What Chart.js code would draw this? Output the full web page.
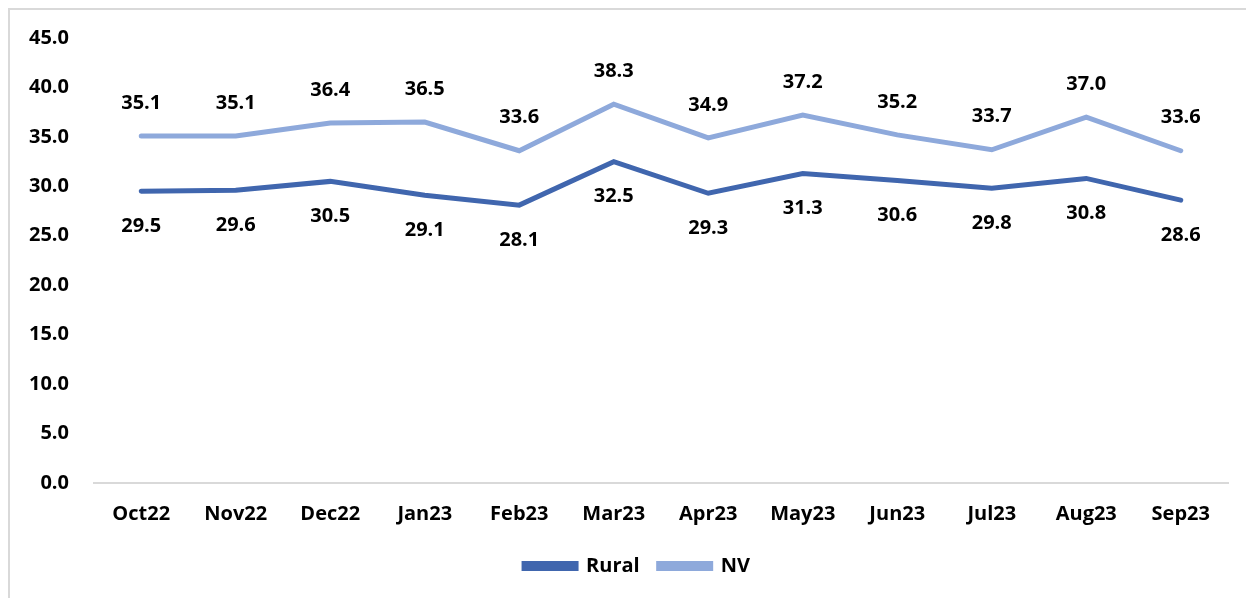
<!DOCTYPE html>
<html>
<head>
<meta charset="utf-8">
<script src="https://cdn.jsdelivr.net/npm/chart.js@4.4.1/dist/chart.umd.min.js"></script>
<style>
    body { margin: 0; background: #fff; }
    #wrap { position: relative; width: 1246px; height: 598px; }
    #frame {
        position: absolute; left: 8px; top: 8px; width: 1260px; height: 620px;
        border-left: 2px solid #d9d9d9; border-top: 2px solid #d9d9d9;
    }
    canvas { position: absolute; left: 0; top: 0; }
</style>
</head>
<body>
<div id="wrap">
    <div id="frame"></div>
    <canvas id="chart" width="1246" height="598"></canvas>
</div>
<script>
// Data
let months = ["Oct22", "Nov22", "Dec22", "Jan23", "Feb23", "Mar23", "Apr23", "May23", "Jun23", "Jul23", "Aug23", "Sep23"];
let rural = [29.5, 29.6, 30.5, 29.1, 28.1, 32.5, 29.3, 31.3, 30.6, 29.8, 30.8, 28.6];
let nv = [35.1, 35.1, 36.4, 36.5, 33.6, 38.3, 34.9, 37.2, 35.2, 33.7, 37.0, 33.6];

let font = "'Open Sans', 'Noto Sans', sans-serif";

// Value labels: NV above the line, Rural below
let valueLabels = {
    id: "valueLabels",
    afterDatasetsDraw(chart) {
        let ctx = chart.ctx;
        ctx.save();
        ctx.font = "bold 20px " + font;
        ctx.fillStyle = "#000";
        ctx.textAlign = "center";
        ctx.textBaseline = "middle";
        chart.data.datasets.forEach((ds, i) => {
            let meta = chart.getDatasetMeta(i);
            let offset = ds.label === "NV" ? -33 : 35;
            meta.data.forEach((pt, j) => {
                ctx.fillText(ds.data[j].toFixed(1), pt.x, pt.y + offset);
            });
        });
        ctx.restore();
    }
};

// Legend is centred in the outer chart frame (which runs past the right edge)
let legendShift = {
    id: "legendShift",
    afterLayout(chart) {
        let lg = chart.legend;
        let frameMid = 637;
        let d = frameMid - (lg.left + lg.right) / 2;
        lg.left += d;
        lg.right += d;
    }
};

new Chart(document.getElementById("chart"), {
    type: "line",
    data: {
        labels: months,
        datasets: [
            { label: "Rural", data: rural, borderColor: "#4066ae", backgroundColor: "#4066ae", borderWidth: 5, pointRadius: 0, borderCapStyle: "round" },
            { label: "NV", data: nv, borderColor: "#8ea9db", backgroundColor: "#8ea9db", borderWidth: 5, pointRadius: 0, borderCapStyle: "round" }
        ]
    },
    options: {
        responsive: false,
        animation: false,
        layout: { padding: { top: 38, right: 18, bottom: 12, left: 0 } },
        plugins: {
            tooltip: { enabled: false },
            legend: {
                position: "bottom",
                labels: {
                    boxWidth: 52,
                    boxHeight: 5,
                    padding: 19,
                    color: "#000",
                    font: { family: font, size: 20, weight: "bold" }
                }
            }
        },
        scales: {
            x: {
                offset: true,
                grid: { display: false },
                border: { display: true, color: "#d9d9d9", width: 2 },
                ticks: { color: "#000", padding: 11, maxRotation: 0, font: { family: font, size: 20, weight: "bold" } }
            },
            y: {
                min: 0,
                max: 45,
                afterFit(scale) { scale.width = 94; },
                grid: { display: false },
                border: { display: false },
                ticks: {
                    stepSize: 5,
                    padding: 17,
                    color: "#000",
                    font: { family: font, size: 20, weight: "bold" },
                    callback: (v) => v.toFixed(1)
                }
            }
        }
    },
    plugins: [valueLabels, legendShift]
});
</script>
</body>
</html>
